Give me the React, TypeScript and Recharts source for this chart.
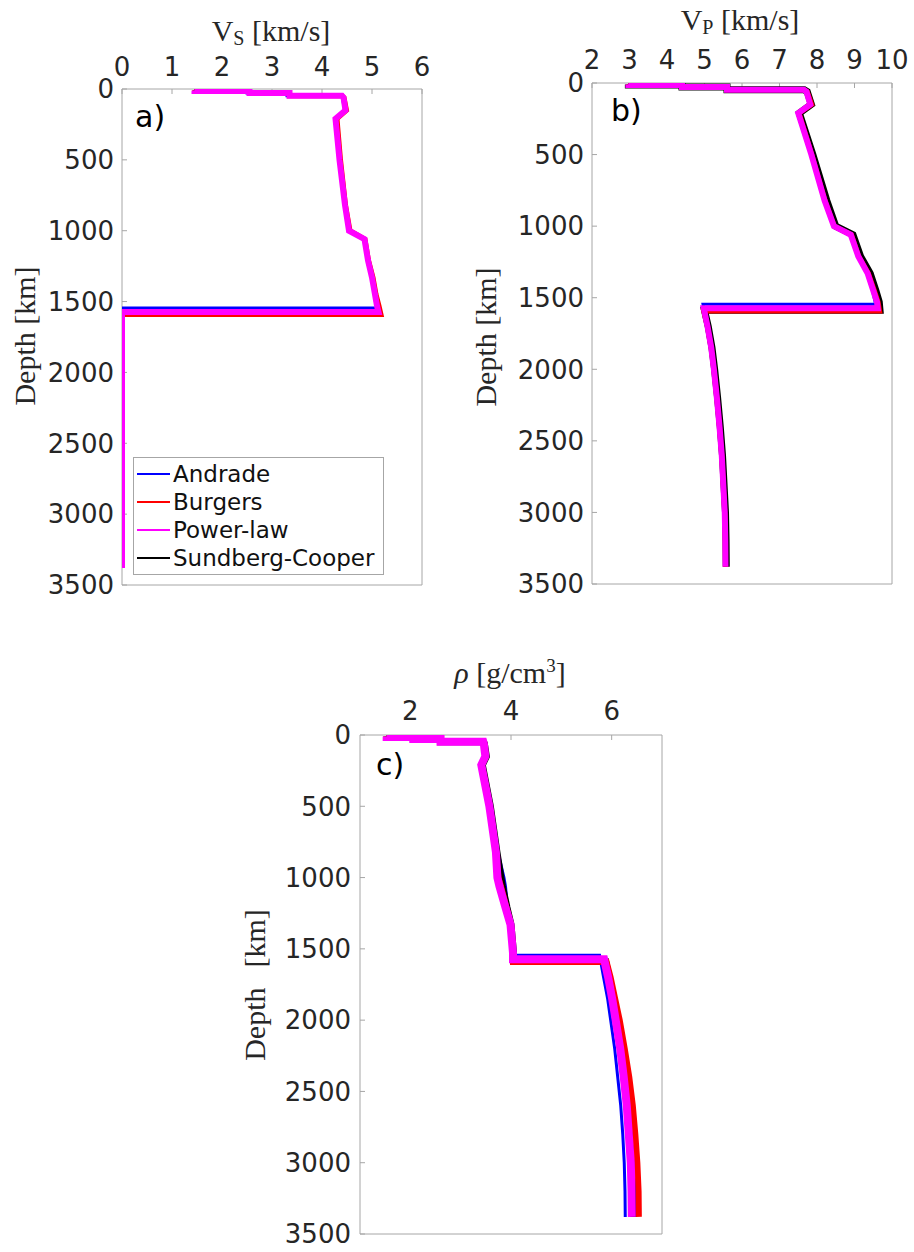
import React from 'react';
import { ScatterChart, Scatter, XAxis, YAxis, Legend } from 'recharts';

const modelNames = ['Andrade', 'Burgers', 'Power-law', 'Sundberg-Cooper'];
const modelColors = ['#0000ff', '#ff0000', '#ff00ff', '#000000'];
// Andrade, Sundberg-Cooper, Burgers, then Power-law on top
const drawOrder = [0, 3, 1, 2];

// depth nodes [km]: crust steps + mantle, then CMB (per model) and core
const mantleDepth = [10, 14, 14, 28, 28, 48, 48, 60, 150, 210, 500, 820, 1000, 1060, 1210, 1330, 1450, 1530];
const coreDepth = [1700, 1850, 2000, 2200, 2400, 2600, 2800, 3000, 3200, 3380];
const cmbDepth = [1545, 1592, 1573, 1588];

// Vs [km/s]
const vsAndrade = [1.45, 1.45, 2.5, 2.5, 3.3, 3.3, 4.38, 4.41, 4.45, 4.28, 4.36, 4.46, 4.55, 4.84, 4.91, 4.99, 5.05, 5.08, 5.09, 0, 0, 0, 0, 0, 0, 0, 0, 0, 0, 0];
const vsBurgers = [1.45, 1.45, 2.55, 2.55, 3.35, 3.35, 4.4, 4.44, 4.49, 4.3, 4.37, 4.47, 4.56, 4.86, 4.93, 5.02, 5.08, 5.14, 5.18, 0, 0, 0, 0, 0, 0, 0, 0, 0, 0, 0];
const vsPowerLaw = [1.45, 1.45, 2.55, 2.55, 3.35, 3.35, 4.4, 4.43, 4.47, 4.27, 4.35, 4.46, 4.54, 4.85, 4.92, 5.0, 5.06, 5.1, 5.13, 0, 0, 0, 0, 0, 0, 0, 0, 0, 0, 0];
const vsSundberg = [1.45, 1.45, 2.55, 2.55, 3.35, 3.35, 4.4, 4.43, 4.47, 4.28, 4.36, 4.47, 4.55, 4.85, 4.93, 5.01, 5.07, 5.12, 5.15, 0, 0, 0, 0, 0, 0, 0, 0, 0, 0, 0];

// Vp [km/s]
const vpAndrade = [2.97, 2.97, 4.4, 4.4, 5.6, 5.6, 7.64, 7.7, 7.8, 7.48, 7.84, 8.19, 8.44, 8.88, 9.08, 9.33, 9.48, 9.55, 9.56, 4.96, 5.07, 5.17, 5.24, 5.32, 5.39, 5.45, 5.49, 5.53, 5.545, 5.55];
const vpBurgers = [2.97, 2.97, 4.4, 4.4, 5.6, 5.6, 7.66, 7.74, 7.86, 7.52, 7.86, 8.21, 8.46, 8.92, 9.11, 9.37, 9.53, 9.63, 9.67, 4.98, 5.08, 5.18, 5.25, 5.33, 5.4, 5.46, 5.5, 5.54, 5.555, 5.56];
const vpPowerLaw = [2.97, 2.97, 4.4, 4.4, 5.6, 5.6, 7.65, 7.72, 7.82, 7.5, 7.85, 8.2, 8.45, 8.9, 9.1, 9.35, 9.5, 9.6, 9.62, 4.98, 5.08, 5.18, 5.25, 5.33, 5.4, 5.46, 5.5, 5.54, 5.555, 5.56];
const vpSundberg = [2.97, 2.97, 4.4, 4.4, 5.6, 5.6, 7.66, 7.74, 7.85, 7.53, 7.89, 8.26, 8.5, 8.96, 9.16, 9.42, 9.57, 9.66, 9.68, 5.0, 5.1, 5.2, 5.27, 5.35, 5.42, 5.48, 5.52, 5.56, 5.575, 5.58];

// density [g/cm3]
const rhoAndrade = [1.53, 1.53, 2.06, 2.06, 2.6, 2.6, 3.44, 3.47, 3.52, 3.44, 3.6, 3.74, 3.86, 3.89, 3.93, 4.01, 4.04, 4.05, 4.06, 5.76, 5.84, 5.92, 5.98, 6.06, 6.12, 6.18, 6.22, 6.25, 6.265, 6.27];
const rhoBurgers = [1.53, 1.53, 2.06, 2.06, 2.6, 2.6, 3.45, 3.47, 3.5, 3.42, 3.58, 3.7, 3.75, 3.8, 3.91, 4.0, 4.03, 4.04, 4.04, 5.9, 5.98, 6.07, 6.16, 6.26, 6.35, 6.42, 6.47, 6.51, 6.535, 6.54];
const rhoPowerLaw = [1.53, 1.53, 2.06, 2.06, 2.6, 2.6, 3.45, 3.46, 3.49, 3.41, 3.57, 3.7, 3.73, 3.77, 3.89, 3.99, 4.02, 4.04, 4.04, 5.85, 5.93, 6.01, 6.08, 6.17, 6.24, 6.3, 6.34, 6.38, 6.395, 6.4];
const rhoSundberg = [1.53, 1.53, 2.06, 2.06, 2.6, 2.6, 3.45, 3.47, 3.51, 3.43, 3.59, 3.72, 3.8, 3.83, 3.92, 4.0, 4.03, 4.05, 4.05, 5.88, 5.95, 6.03, 6.1, 6.19, 6.27, 6.33, 6.37, 6.41, 6.425, 6.43];

const depthTicks = [0, 500, 1000, 1500, 2000, 2500, 3000, 3500];
const vsTicks = [0, 1, 2, 3, 4, 5, 6];
const vpTicks = [2, 3, 4, 5, 6, 7, 8, 9, 10];
const rhoTicks = [2, 4, 6];

const AXIS = '#a6a6a6';
const TEXT = '#262626';
const SANS = '"DejaVu Sans", sans-serif';
const SERIF = '"Liberation Serif", serif';

const tickStyle = { fontSize: 26, fill: TEXT, fontFamily: SANS };

function toProfile(cmb: number, values: number[]) {
  const depth = [...mantleDepth, cmb, cmb, ...coreDepth];
  return depth.map((d, i) => ({ d, v: values[i] }));
}

const LegendBox = () => (
  <div
    style={{
      width: 251,
      boxSizing: 'border-box',
      border: `1px solid ${AXIS}`,
      background: '#fff',
      padding: '2px 0',
    }}
  >
    {modelNames.map((name, i) => (
      <div key={name} style={{ display: 'flex', alignItems: 'center', height: 28 }}>
        <svg width={36} height={4} style={{ marginLeft: 2 }}>
          <line x1={1} x2={34} y1={2} y2={2} stroke={modelColors[i]} strokeWidth={2} />
        </svg>
        <span style={{ fontFamily: SANS, fontSize: 23, color: '#111', marginLeft: 1, lineHeight: '28px' }}>
          {name}
        </span>
      </div>
    ))}
  </div>
);

interface PanelProps {
  left: number;
  top: number;
  width: number;
  height: number;
  margin: { top: number; right: number; bottom: number; left: number };
  yAxisWidth: number;
  xAxisHeight: number;
  xDomain: [number, number];
  xTicks: number[];
  profiles: number[][];
  strokeWidths: number[];
  xTickMargin: number;
  yTickMargin: number;
  legendPos?: { left: number; top: number };
}

const Panel: React.FC<PanelProps> = ({
  left,
  top,
  width,
  height,
  margin,
  yAxisWidth,
  xAxisHeight,
  xDomain,
  xTicks,
  profiles,
  strokeWidths,
  xTickMargin,
  yTickMargin,
  legendPos,
}) => (
  <div style={{ position: 'absolute', left, top }}>
    <ScatterChart width={width} height={height} margin={margin}>
      <XAxis
        xAxisId="t"
        type="number"
        dataKey="v"
        orientation="top"
        domain={xDomain}
        ticks={xTicks}
        interval={0}
        height={xAxisHeight}
        tickSize={-5}
        tickMargin={xTickMargin}
        stroke={AXIS}
        tick={tickStyle}
        allowDataOverflow
      />
      <XAxis
        xAxisId="b"
        type="number"
        orientation="bottom"
        domain={xDomain}
        ticks={xTicks}
        interval={0}
        height={1}
        tickSize={-5}
        stroke={AXIS}
        tick={false}
        allowDataOverflow
      />
      <YAxis
        yAxisId="l"
        type="number"
        dataKey="d"
        domain={[0, 3500]}
        reversed
        ticks={depthTicks}
        interval={0}
        width={yAxisWidth}
        tickSize={-5}
        tickMargin={yTickMargin}
        stroke={AXIS}
        tick={tickStyle}
        allowDataOverflow
      />
      <YAxis
        yAxisId="r"
        type="number"
        orientation="right"
        domain={[0, 3500]}
        reversed
        ticks={depthTicks}
        interval={0}
        width={1}
        tickSize={-5}
        stroke={AXIS}
        tick={false}
        allowDataOverflow
      />
      {legendPos && (
        <Legend
          layout="vertical"
          align="center"
          verticalAlign="middle"
          wrapperStyle={{ left: legendPos.left, top: legendPos.top, width: 251 }}
          content={() => <LegendBox />}
        />
      )}
      {drawOrder.map((m) => (
        <Scatter
          key={modelNames[m]}
          name={modelNames[m]}
          xAxisId="t"
          yAxisId="l"
          data={toProfile(cmbDepth[m], profiles[m])}
          fill={modelColors[m]}
          line={{ stroke: modelColors[m], strokeWidth: strokeWidths[m] }}
          shape={() => <g />}
          legendType="line"
          isAnimationActive={false}
        />
      ))}
    </ScatterChart>
  </div>
);

export default function App() {
  return (
    <div style={{ position: 'absolute', left: 0, top: 0, width: 914, height: 1252, background: '#fff' }}>
      <Panel
        left={0}
        top={0}
        width={440}
        height={600}
        margin={{ top: 0, right: 17, bottom: 14, left: 0 }}
        yAxisWidth={122}
        xAxisHeight={89}
        xDomain={[0, 6]}
        xTicks={vsTicks}
        profiles={[vsAndrade, vsBurgers, vsPowerLaw, vsSundberg]}
        strokeWidths={[3, 5, 6, 4]}
        xTickMargin={18}
        yTickMargin={13}
        legendPos={{ left: 133, top: 457 }}
      />
      <Panel
        left={460}
        top={0}
        width={450}
        height={600}
        margin={{ top: 0, right: 17, bottom: 15, left: 0 }}
        yAxisWidth={132}
        xAxisHeight={83}
        xDomain={[2, 10]}
        xTicks={vpTicks}
        profiles={[vpAndrade, vpBurgers, vpPowerLaw, vpSundberg]}
        strokeWidths={[3, 5, 6, 7]}
        xTickMargin={19}
        yTickMargin={13}
      />
      <Panel
        left={230}
        top={640}
        width={450}
        height={612}
        margin={{ top: 0, right: 17, bottom: 17, left: 0 }}
        yAxisWidth={130}
        xAxisHeight={95}
        xDomain={[1, 7]}
        xTicks={rhoTicks}
        profiles={[rhoAndrade, rhoBurgers, rhoPowerLaw, rhoSundberg]}
        strokeWidths={[3, 6, 8, 7]}
        xTickMargin={20}
        yTickMargin={14}
      />
      <svg
        width={914}
        height={1252}
        style={{ position: 'absolute', left: 0, top: 0, pointerEvents: 'none' }}
      >
        <g fontFamily={SERIF} fontSize={30} fill={TEXT}>
          <text x={271} y={41} textAnchor="middle">
            V<tspan fontSize={20} dy={4}>S</tspan>
            <tspan dy={-4}>{' [km/s]'}</tspan>
          </text>
          <text x={740} y={30} textAnchor="middle">
            V<tspan fontSize={20} dy={4}>P</tspan>
            <tspan dy={-4}>{' [km/s]'}</tspan>
          </text>
          <text x={510} y={683} textAnchor="middle">
            <tspan fontStyle="italic">ρ</tspan>
            <tspan>{' [g/cm'}</tspan>
            <tspan fontSize={19} dy={-11}>3</tspan>
            <tspan dy={11}>]</tspan>
          </text>
          <text transform="translate(35,336) rotate(-90)" textAnchor="middle">
            Depth [km]
          </text>
          <text transform="translate(496,337) rotate(-90)" textAnchor="middle">
            Depth [km]
          </text>
          <text transform="translate(265,985) rotate(-90)" textAnchor="middle">
            Depth<tspan dx={20}>[km]</tspan>
          </text>
        </g>
        <g fontFamily={SANS} fontSize={30} fill="#000">
          <text x={135} y={127}>a)</text>
          <text x={611} y={121}>b)</text>
          <text x={376} y={775}>c)</text>
        </g>
      </svg>
    </div>
  );
}
